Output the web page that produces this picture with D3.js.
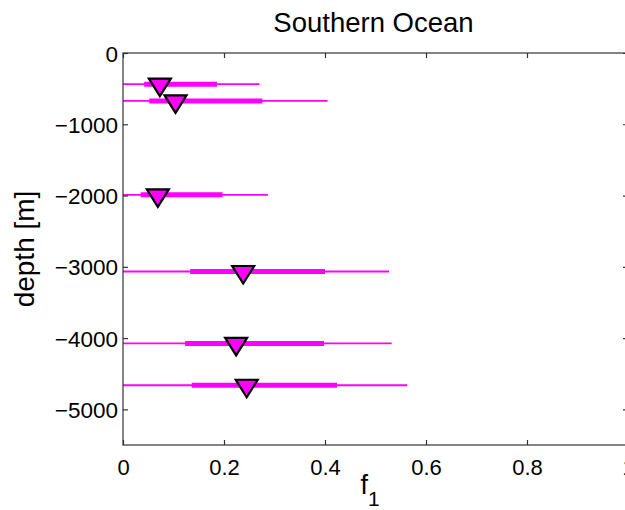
<!DOCTYPE html>
<html>
<head>
<meta charset="utf-8">
<script src="https://cdn.jsdelivr.net/npm/d3@7"></script>
<style>
  body { margin: 0; background: #fff; }
  text { font-family: "Liberation Sans", Arial, sans-serif; fill: #000; }
</style>
</head>
<body>
<div id="chart"></div>
<script>
// data
var depths   = [-437, -672, -1990, -3066, -4075, -4662];
var f1       = [0.073, 0.104, 0.069, 0.238, 0.224, 0.245];
var thickLo  = [0.042, 0.052, 0.035, 0.133, 0.123, 0.136];
var thickHi  = [0.186, 0.276, 0.197, 0.400, 0.398, 0.424];
var thinLo   = [0, 0, 0, 0, 0, 0];
var thinHi   = [0.270, 0.405, 0.287, 0.527, 0.532, 0.563];
var xTicks   = [0, 0.2, 0.4, 0.6, 0.8, 1];
var yTicks   = [0, -1000, -2000, -3000, -4000, -5000];

var svgWidth = 625;
var svgHeight = 510;
var margin = { top: 53, right: -3, bottom: 65, left: 123 };
var width = svgWidth - margin.left - margin.right;
var height = svgHeight - margin.top - margin.bottom;

var svg = d3.select("#chart").append("svg")
  .attr("width", svgWidth)
  .attr("height", svgHeight);

var g = svg.append("g")
  .attr("transform", `translate(${margin.left}, ${margin.top})`);

var x = d3.scaleLinear().domain([0, 1]).range([0, width]);
var y = d3.scaleLinear().domain([-5500, 0]).range([height, 0]);

var rows = depths.map(function(d, i) {
  return { depth: d, f: f1[i], tlo: thickLo[i], thi: thickHi[i], lo: thinLo[i], hi: thinHi[i] };
});

// thin lines (full range)
g.selectAll(".thin").data(rows).enter().append("line")
  .attr("x1", d => x(d.lo)).attr("x2", d => x(d.hi))
  .attr("y1", d => y(d.depth)).attr("y2", d => y(d.depth))
  .attr("stroke", "#ff00ff").attr("stroke-width", 1.8);

// thick lines (inner range)
g.selectAll(".thick").data(rows).enter().append("line")
  .attr("x1", d => x(d.tlo)).attr("x2", d => x(d.thi))
  .attr("y1", d => y(d.depth)).attr("y2", d => y(d.depth))
  .attr("stroke", "#ff00ff").attr("stroke-width", 5);

// axes box
g.append("rect")
  .attr("width", width).attr("height", height)
  .attr("fill", "none").attr("stroke", "#333").attr("stroke-width", 1.2);

// x axis bottom and top, ticks pointing in
var bottomAxis = d3.axisBottom(x).tickValues(xTicks).tickSize(-5).tickPadding(14)
  .tickFormat(d => d === 0 ? "0" : d3.format("~g")(d));
var xg = g.append("g").attr("transform", `translate(0, ${height})`).call(bottomAxis);
g.append("g").call(d3.axisTop(x).tickValues(xTicks).tickSize(-5).tickFormat(""));

var leftAxis = d3.axisLeft(y).tickValues(yTicks).tickSize(-5).tickPadding(5)
  .tickFormat(d => d === 0 ? "0" : "\u2212" + Math.abs(d));
var yg = g.append("g").call(leftAxis);
g.append("g").attr("transform", `translate(${width}, 0)`)
  .call(d3.axisRight(y).tickValues(yTicks).tickSize(-5).tickFormat(""));

g.selectAll(".domain").remove();
g.selectAll(".tick line").attr("stroke", "#333").attr("stroke-width", 1.2);
xg.selectAll("text").style("font-size", "22px").attr("fill", "#000");
yg.selectAll("text").style("font-size", "22.5px").attr("fill", "#000").attr("dy", "0.36em");

// triangle markers (centroid on the data point)
var tri = "M-11,-5.5 L11,-5.5 L0,12 Z";
g.selectAll(".mark").data(rows).enter().append("path")
  .attr("d", tri)
  .attr("transform", d => `translate(${x(d.f)}, ${y(d.depth)})`)
  .attr("fill", "#ff00ff").attr("stroke", "#000").attr("stroke-width", 2.2)
  .attr("stroke-linejoin", "miter");

// title and labels
svg.append("text")
  .attr("x", margin.left + width / 2 - 2).attr("y", 32)
  .attr("text-anchor", "middle")
  .style("font-size", "27.5px")
  .text("Southern Ocean");

var xl = svg.append("text")
  .attr("x", 370).attr("y", 494)
  .attr("text-anchor", "middle")
  .style("font-size", "27px");
xl.append("tspan").text("f");
xl.append("tspan").attr("dy", 12).style("font-size", "21px").text("1");

svg.append("text")
  .attr("transform", `translate(34, ${margin.top + height / 2}) rotate(-90)`)
  .attr("text-anchor", "middle")
  .style("font-size", "28px")
  .text("depth [m]");
</script>
</body>
</html>
